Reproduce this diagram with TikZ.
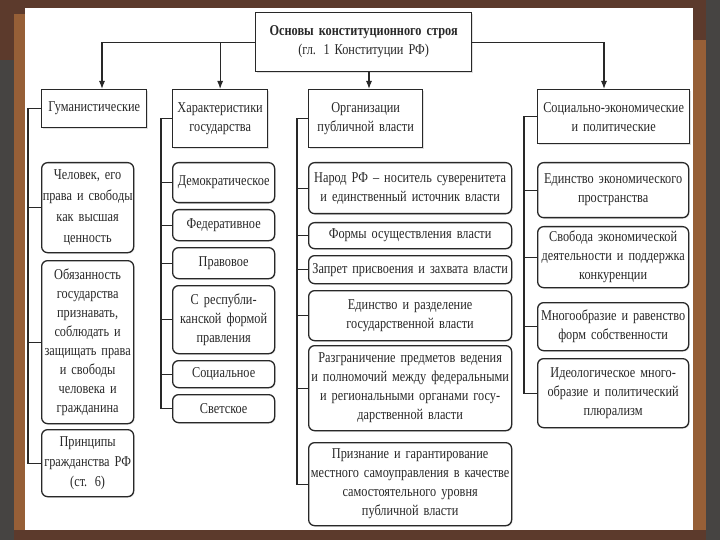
\documentclass[tikz,border=0pt]{standalone}
\usepackage{fontspec}
\setmainfont[FakeStretch=0.82,WordSpace=0.65]{Liberation Serif}
\usetikzlibrary{arrows.meta,shadows}
\definecolor{woodA}{RGB}{92,58,44}
\definecolor{woodB}{RGB}{150,95,55}
\definecolor{woodC}{RGB}{70,68,66}
\definecolor{ink}{RGB}{40,40,40}
\begin{document}
\begin{tikzpicture}[x=1pt,y=-1pt,
  every node/.style={font=\fontsize{15}{19}\selectfont, text=ink},
  hbox/.style={draw=ink, line width=1.3pt, fill=white, align=center, inner sep=0pt, anchor=north west,
     drop shadow={shadow xshift=1pt,shadow yshift=-1pt,opacity=0.25}},
  rbox/.style={hbox, rounded corners=6pt},
  conn/.style={draw=ink, line width=1.1pt},
  arr/.style={conn, -{Latex[length=8pt,width=6pt]}}]
\useasboundingbox (0,0) rectangle (720,540);
% background
\fill[woodA] (0,0) rectangle (720,540);
\fill[woodC] (0,60) rectangle (14,540);
\fill[woodC] (706,0) rectangle (720,540);
\fill[woodB] (14,14) rectangle (25,530);
\fill[woodB] (693,40) rectangle (706,530);
\fill[white] (25,8) rectangle (693,530);
% title
\node[hbox, minimum width=216pt, minimum height=59pt, text width=212pt] (t) at (255,12)
  {\textbf{Основы конституционного строя}\\(гл. 1 Конституции РФ)};
% headers
\node[hbox, minimum width=105pt, minimum height=38pt, text width=101pt] (h1) at (41,89) {Гуманистические};
\node[hbox, minimum width=95pt, minimum height=58pt, text width=93pt] (h2) at (172,89) {Характеристики\\государства};
\node[hbox, minimum width=114pt, minimum height=58pt, text width=110pt] (h3) at (308,89) {Организации\\публичной власти};
\node[hbox, minimum width=152pt, minimum height=54pt, text width=150pt] (h4) at (537,89) {Социально-экономические\\и политические};
% arrows from title
\coordinate (p1) at (102,89);
\coordinate (p3) at (369,89);
\coordinate (p4) at (604,89);
\draw[arr] (t.west) -| (p1);
\draw[arr] (t.west -| h2.north) -- (h2.north);
\draw[arr] (p3 |- t.south) -- (p3);
\draw[arr] (t.east) -| (p4);
% column 1
\node[rbox, minimum width=92pt, minimum height=90pt, text width=92pt, font=\fontsize{15}{21}\selectfont] (a1) at (41,162) {Человек, его\\права и свободы\\как высшая\\ценность};
\node[rbox, minimum width=92pt, minimum height=163pt, text width=92pt] (a2) at (41,260) {Обязанность\\государства\\признавать,\\соблюдать и\\защищать права\\и свободы\\человека и\\гражданина};
\node[rbox, minimum width=92pt, minimum height=67pt, text width=92pt, font=\fontsize{15}{20}\selectfont] (a3) at (41,429) {Принципы\\гражданства РФ\\(ст. 6)};
% column 2
\node[rbox, minimum width=102pt, minimum height=40pt, text width=100pt] (b1) at (172,162) {Демократическое};
\node[rbox, minimum width=102pt, minimum height=31pt, text width=100pt] (b2) at (172,209) {Федеративное};
\node[rbox, minimum width=102pt, minimum height=31pt, text width=100pt] (b3) at (172,247) {Правовое};
\node[rbox, minimum width=102pt, minimum height=68pt, text width=100pt] (b4) at (172,285) {С республи-\\канской формой\\правления};
\node[rbox, minimum width=102pt, minimum height=27pt, text width=100pt] (b5) at (172,360) {Социальное};
\node[rbox, minimum width=102pt, minimum height=28pt, text width=100pt] (b6) at (172,394) {Светское};
% column 3
\node[rbox, minimum width=203pt, minimum height=51pt, text width=203pt] (c1) at (308,162) {Народ РФ – носитель суверенитета\\и единственный источник власти};
\node[rbox, minimum width=203pt, minimum height=26pt, text width=203pt] (c2) at (308,222) {Формы осуществления власти};
\node[rbox, minimum width=203pt, minimum height=28pt, text width=203pt] (c3) at (308,255) {Запрет присвоения и захвата власти};
\node[rbox, minimum width=203pt, minimum height=50pt, text width=203pt] (c4) at (308,290) {Единство и разделение\\государственной власти};
\node[rbox, minimum width=203pt, minimum height=85pt, text width=203pt] (c5) at (308,345) {Разграничение предметов ведения\\и полномочий между федеральными\\и региональными органами госу-\\дарственной власти};
\node[rbox, minimum width=203pt, minimum height=83pt, text width=203pt] (c6) at (308,442) {Признание и гарантирование\\местного самоуправления в качестве\\самостоятельного уровня\\публичной власти};
% column 4
\node[rbox, minimum width=151pt, minimum height=55pt, text width=151pt] (d1) at (537,162) {Единство экономического\\пространства};
\node[rbox, minimum width=151pt, minimum height=61pt, text width=151pt] (d2) at (537,226) {Свобода экономической\\деятельности и поддержка\\конкуренции};
\node[rbox, minimum width=151pt, minimum height=48pt, text width=151pt] (d3) at (537,302) {Многообразие и равенство\\форм собственности};
\node[rbox, minimum width=151pt, minimum height=69pt, text width=151pt] (d4) at (537,358) {Идеологическое много-\\образие и политический\\плюрализм};
% brackets
\coordinate (v1) at ([xshift=-13pt]h1.west);
\coordinate (v2) at ([xshift=-11pt]h2.west);
\coordinate (v3) at ([xshift=-11pt]h3.west);
\coordinate (v4) at ([xshift=-13pt]h4.west);
\draw[conn] (h1.west) -- (v1) |- (a3.west);
\draw[conn] (v1) |- (a1.west);
\draw[conn] (v1) |- (a2.west);
\draw[conn] (h2.west) -- (v2) |- (b6.west);
\foreach \n in {b1,b2,b3,b4,b5} \draw[conn] (v2) |- (\n.west);
\draw[conn] (h3.west) -- (v3) |- (c6.west);
\foreach \n in {c1,c2,c3,c4,c5} \draw[conn] (v3) |- (\n.west);
\draw[conn] (h4.west) -- (v4) |- (d4.west);
\foreach \n in {d1,d2,d3} \draw[conn] (v4) |- (\n.west);
\end{tikzpicture}
\end{document}
